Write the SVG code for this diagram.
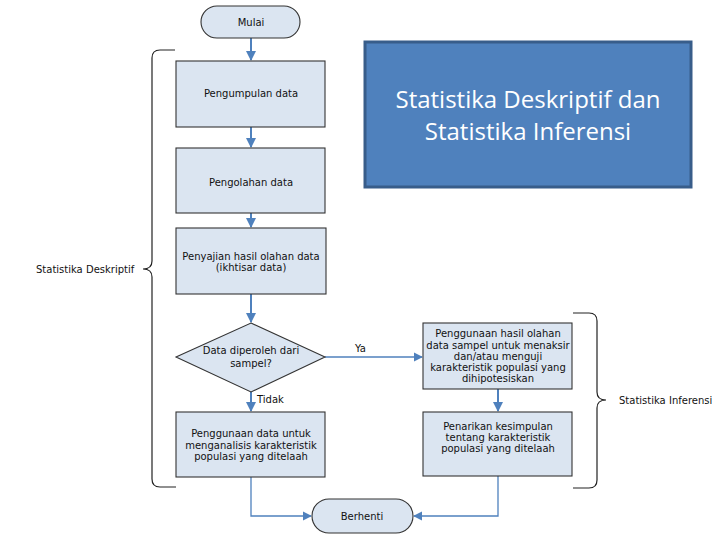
<svg xmlns="http://www.w3.org/2000/svg" width="720" height="540" viewBox="0 0 720 540">
<style>
.box{fill:#dbe5f1;stroke:#333;stroke-width:1.1}
.t{font-family:"DejaVu Sans",Verdana,sans-serif;font-size:10px;fill:#111;text-anchor:middle;dominant-baseline:central}
.lbl{font-family:"DejaVu Sans",Verdana,sans-serif;font-size:10px;fill:#111;dominant-baseline:central}
.c{fill:none;stroke:#4f81bd;stroke-width:2}
.c1{fill:none;stroke:#4f81bd;stroke-width:1.3}
.br{fill:none;stroke:#222;stroke-width:1.2}
.big{font-family:"Open Sans","Noto Sans",sans-serif;font-size:24px;fill:#fff;text-anchor:middle;dominant-baseline:central}
</style>
<defs>
<marker id="ah" viewBox="0 0 10 10" refX="9" refY="5" markerWidth="5" markerHeight="5" orient="auto" markerUnits="strokeWidth"><path d="M0,0 L10,5 L0,10 z" fill="#4f81bd"/></marker>
<marker id="ah2" viewBox="0 0 10 10" refX="9" refY="5" markerWidth="7" markerHeight="7" orient="auto" markerUnits="strokeWidth"><path d="M0,0 L10,5 L0,10 z" fill="#4f81bd"/></marker>
</defs>
<rect width="720" height="540" fill="#fff"/>
<g id="connectors">
<path class="c" d="M251,38 V60" marker-end="url(#ah)"/>
<path class="c" d="M251,127 V147" marker-end="url(#ah)"/>
<path class="c" d="M251,213 V227" marker-end="url(#ah)"/>
<path class="c" d="M251,294 V322" marker-end="url(#ah)"/>
<path class="c" d="M251,392 V411" marker-end="url(#ah)"/>
<path class="c1" d="M325,357 H422" marker-end="url(#ah2)"/>
<path class="c" d="M498,389 V411" marker-end="url(#ah)"/>
<path class="c1" d="M251,477 V516 H311" marker-end="url(#ah2)"/>
<path class="c1" d="M498,476 V516 H414" marker-end="url(#ah2)"/>
<text class="lbl" x="355" y="348">Ya</text>
<text class="lbl" x="257" y="399">Tidak</text>
</g>
<g id="mulai">
<rect class="box" x="201" y="6" width="99" height="32" rx="16"/>
<text class="t" x="251" y="22">Mulai</text>
</g>
<g id="pengumpulan">
<rect class="box" x="176" y="61" width="149" height="66"/>
<text class="t" x="251" y="93">Pengumpulan data</text>
</g>
<g id="pengolahan">
<rect class="box" x="176" y="148" width="149" height="65"/>
<text class="t" x="251" y="182">Pengolahan data</text>
</g>
<g id="penyajian">
<rect class="box" x="176" y="228" width="150" height="66"/>
<text class="t" x="251" y="256">Penyajian hasil olahan data</text>
<text class="t" x="251" y="267">(ikhtisar data)</text>
</g>
<g id="keputusan">
<polygon class="box" points="251,323 325,357 251,392 176,357"/>
<text class="t" x="251" y="350">Data diperoleh dari</text>
<text class="t" x="251" y="363">sampel?</text>
</g>
<g id="analisis">
<rect class="box" x="176" y="412" width="149" height="65"/>
<text class="t" x="251" y="433">Penggunaan data untuk</text>
<text class="t" x="251" y="445">menganalisis karakteristik</text>
<text class="t" x="251" y="456">populasi yang ditelaah</text>
</g>
<g id="berhenti">
<rect class="box" x="312" y="499" width="101" height="34" rx="17"/>
<text class="t" x="362" y="516">Berhenti</text>
</g>
<g id="inferensi1">
<rect class="box" x="423" y="323" width="149" height="66"/>
<text class="t" x="498" y="333">Penggunaan hasil olahan</text>
<text class="t" x="498" y="345">data sampel untuk menaksir</text>
<text class="t" x="498" y="356">dan/atau menguji</text>
<text class="t" x="498" y="367">karakteristik populasi yang</text>
<text class="t" x="498" y="378">dihipotesiskan</text>
</g>
<g id="inferensi2">
<rect class="box" x="423" y="412" width="149" height="64"/>
<text class="t" x="498" y="426">Penarikan kesimpulan</text>
<text class="t" x="498" y="437">tentang karakteristik</text>
<text class="t" x="498" y="448">populasi yang ditelaah</text>
</g>
<g id="brace-deskriptif">
<path class="br" d="M175,50 H160 Q152,50 152,58 V261 Q152,269 143,269 Q152,269 152,277 V479 Q152,487 160,487 H176"/>
<text class="lbl" x="36" y="269">Statistika Deskriptif</text>
</g>
<g id="brace-inferensi">
<path class="br" d="M573,313 H589 Q597,313 597,321 V392 Q597,400 606,400 Q597,400 597,408 V480 Q597,488 589,488 H573"/>
<text class="lbl" x="619" y="400">Statistika Inferensi</text>
</g>
<g id="judul">
<rect x="365" y="42" width="326" height="145" fill="#4f81bd" stroke="#385d8a" stroke-width="3"/>
<text class="big" x="528" y="98">Statistika Deskriptif dan</text>
<text class="big" x="528" y="130">Statistika Inferensi</text>
</g>
</svg>
